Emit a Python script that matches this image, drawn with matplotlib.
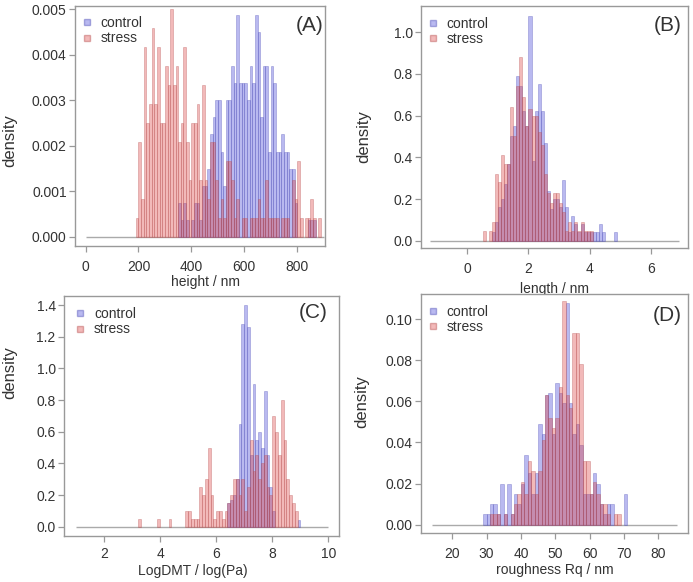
import numpy as np
import matplotlib
matplotlib.use("Agg")
import matplotlib.pyplot as plt
from matplotlib.lines import Line2D

plt.rcParams['font.family'] = ['Liberation Sans', 'DejaVu Sans']

# ---- (A) height / nm, 10 nm bins (counts, converted to density) ----
a_width = 10
a_stress_start = 190
a_stress_counts = [1, 5, 2, 10, 6, 7, 11, 7, 10, 6, 6,
                   9, 8, 12, 8, 9, 5, 6, 10, 5, 3,
                   6, 6, 7, 3, 8, 3, 2, 5, 5, 3,
                   1, 2, 1, 4, 4, 3, 1, 2, 0, 1,
                   1, 0, 1, 1, 1, 2, 1, 1, 3, 1,
                   1, 1, 1, 0, 1, 1, 1, 0, 3, 2,
                   4, 1, 0, 1, 1, 2, 1, 0, 1]
a_stress_unit = 0.000417
a_ctrl_start = 350
a_ctrl_counts = [2, 1, 2, 1, 0, 1, 2, 2, 1, 3,
                 3, 4, 6, 7, 8, 8, 5, 3, 8, 8,
                 10, 9, 13, 9, 9, 9, 8, 10, 9, 13,
                 12, 7, 10, 10, 5, 10, 9, 5, 5, 6,
                 5, 5, 4, 4, 2, 0, 0, 0, 0, 1, 1, 1]
a_ctrl_unit = 0.000375

# ---- (B) length / nm, 0.1 nm bins, starting at 0.5 ----
b_width = 0.1
b_start = 0.5
b_stress = [0.045, 0.0, 0.045, 0.09, 0.32, 0.28, 0.41, 0.37, 0.37, 0.64,
            0.50, 0.74, 0.88, 0.69, 0.55, 0.63, 0.60, 0.60, 0.52, 0.46,
            0.32, 0.23, 0.18, 0.23, 0.23, 0.18, 0.14, 0.045, 0.09, 0.045,
            0.09, 0.045, 0.09, 0.045, 0.045, 0.045, 0.0, 0.0, 0.0, 0.0,
            0.0, 0.0, 0.0, 0.0, 0.0]
b_ctrl = [0.0, 0.0, 0.0, 0.04, 0.09, 0.16, 0.20, 0.27, 0.37, 0.50,
          0.55, 0.79, 0.74, 0.62, 0.55, 1.08, 0.38, 0.62, 0.75, 0.62,
          0.47, 0.24, 0.15, 0.20, 0.20, 0.16, 0.29, 0.16, 0.04, 0.12,
          0.08, 0.04, 0.08, 0.04, 0.04, 0.04, 0.04, 0.04, 0.08, 0.04,
          0.0, 0.0, 0.0, 0.04, 0.0]

# ---- (C) LogDMT / log(Pa), 0.1 bins, starting at 3.2 ----
c_width = 0.1
c_start = 3.2
c_stress = [0.05, 0, 0, 0, 0, 0, 0, 0.05, 0, 0,
            0, 0.05, 0, 0, 0, 0, 0, 0.1, 0.1, 0.05,
            0.05, 0.05, 0.25, 0.2, 0.3, 0.5, 0.2, 0.05, 0.1, 0.1,
            0.05, 0.1, 0.15, 0.2, 0.3, 0.3, 0.2, 0.3, 0.1, 0.25,
            0.55, 0.35, 0.45, 0.3, 0.4, 0.45, 0.25, 0.2, 0.7, 0.6,
            0.45, 0.8, 0.55, 0.3, 0.2, 0.15, 0.1, 0.0]
c_ctrl = [0] * 32 + [0.15, 0.17, 0.2, 0.3, 0.65, 1.28, 1.4, 1.26,
                     0.45, 0.9, 0.55, 0.6, 0.5, 0.86, 0.45, 0.25, 0.1,
                     0, 0, 0, 0, 0, 0, 0, 0, 0.04]

# ---- (D) roughness Rq / nm, 1 nm bins, starting at 29 ----
d_width = 1
d_start = 29
d_stress = [0, 0, 0.005, 0.005, 0.005, 0, 0.005, 0, 0.005, 0.010,
            0.015, 0.021, 0.015, 0.031, 0.026, 0.015, 0.026, 0.041, 0.063, 0.052,
            0.047, 0.052, 0.067, 0.109, 0.063, 0.057, 0.093, 0.093, 0.078, 0.031,
            0.031, 0.015, 0.021, 0.015, 0.010, 0.010, 0.005, 0, 0.005, 0.005,
            0, 0]
d_ctrl = [0.005, 0.005, 0.010, 0.010, 0.005, 0.020, 0.005, 0.020, 0.005, 0.015,
          0.010, 0.020, 0.034, 0.025, 0.015, 0.025, 0.049, 0.044, 0.063, 0.064,
          0.044, 0.069, 0.064, 0.059, 0.108, 0.059, 0.044, 0.049, 0.039, 0.015,
          0.015, 0.015, 0.025, 0.020, 0.010, 0.005, 0.010, 0.010, 0, 0,
          0, 0.015]

CTRL_FACE = (0.24, 0.24, 0.84, 0.36)
CTRL_EDGE = (0.32, 0.32, 0.72, 0.45)
STRESS_FACE = (0.86, 0.24, 0.24, 0.36)
STRESS_EDGE = (0.72, 0.32, 0.32, 0.45)
TXT = '#333333'
GRID = '#999999'


def draw_bars(ax, start, width, vals, face, edge):
    vals = np.asarray(vals, dtype=float)
    lefts = start + width * np.arange(len(vals))
    keep = vals > 0
    ax.bar(lefts[keep], vals[keep], width=width, align='edge',
           color=face, edgecolor=edge, linewidth=0.5, zorder=2)


def style(ax, xlim, ylim, xticks, yticks, yfmt, base, xlabel, letter,
          ylab_pos, xlab_pos, leg_pos, letter_pos, xpad=6):
    ax.hlines(0, base[0], base[1], color='#aaaaaa', lw=1.0, zorder=1)
    ax.set_xlim(*xlim)
    ax.set_ylim(*ylim)
    ax.set_xticks(xticks)
    ax.set_yticks(yticks)
    ax.set_yticklabels([yfmt.format(v) for v in yticks])
    for sp in ax.spines.values():
        sp.set_color(GRID)
        sp.set_linewidth(1.0)
    ax.tick_params(direction='out', length=4, width=0.9, color=GRID,
                   labelcolor=TXT, labelsize=10)
    ax.tick_params(axis='x', pad=xpad)
    ax.tick_params(axis='y', pad=2)
    ax.set_xlabel(xlabel, fontsize=10, color=TXT)
    ax.xaxis.set_label_coords(*xlab_pos)
    ax.set_ylabel('density', fontsize=12, color=TXT)
    ax.yaxis.set_label_coords(*ylab_pos)
    handles = [Line2D([], [], ls='', marker='s', ms=4, mfc=CTRL_FACE, mec=CTRL_EDGE),
               Line2D([], [], ls='', marker='s', ms=4, mfc=STRESS_FACE, mec=STRESS_EDGE)]
    ax.legend(handles, ['control', 'stress'], loc='upper left',
              bbox_to_anchor=leg_pos, frameon=False, fontsize=10,
              handlelength=0.6, handletextpad=0.7, labelspacing=0.1,
              borderaxespad=0, borderpad=0, labelcolor=TXT)
    ax.text(letter_pos[0], letter_pos[1], letter, transform=ax.transAxes,
            ha='right', va='center', fontsize=15, color=TXT)


fig = plt.figure(figsize=(6.93, 5.82), dpi=100)
axA = fig.add_axes([0.1082, 0.5773, 0.3608, 0.4124])
axB = fig.add_axes([0.6075, 0.5739, 0.3853, 0.4158])
axC = fig.add_axes([0.0924, 0.0790, 0.3968, 0.4124])
axD = fig.add_axes([0.6075, 0.0842, 0.3853, 0.4107])

# A
draw_bars(axA, a_ctrl_start, a_width, np.array(a_ctrl_counts) * a_ctrl_unit,
          CTRL_FACE, CTRL_EDGE)
draw_bars(axA, a_stress_start, a_width, np.array(a_stress_counts) * a_stress_unit,
          STRESS_FACE, STRESS_EDGE)
style(axA, (-40, 905), (-0.0002, 0.00507), [0, 200, 400, 600, 800],
      [0, 0.001, 0.002, 0.003, 0.004, 0.005], '{:.3f}', (0, 900),
      'height / nm', '(A)', (-0.232, 0.44), (0.52, -0.121), (0.031, 0.958),
      (0.995, 0.917))

# B
draw_bars(axB, b_start, b_width, b_ctrl, CTRL_FACE, CTRL_EDGE)
draw_bars(axB, b_start, b_width, b_stress, STRESS_FACE, STRESS_EDGE)
style(axB, (-1.51, 7.21), (-0.035, 1.126), [0, 2, 4, 6],
      [0, 0.2, 0.4, 0.6, 0.8, 1.0], '{:.1f}', (-1.2, 6.9),
      'length / nm', '(B)', (-0.188, 0.46), (0.5, -0.14), (0.029, 0.955),
      (0.977, 0.92))

# C
draw_bars(axC, c_start, c_width, c_ctrl, CTRL_FACE, CTRL_EDGE)
draw_bars(axC, c_start, c_width, c_stress, STRESS_FACE, STRESS_EDGE)
style(axC, (0.57, 10.38), (-0.059, 1.457), [2, 4, 6, 8, 10],
      [0, 0.2, 0.4, 0.6, 0.8, 1.0, 1.2, 1.4], '{:.1f}', (1.0, 10.0),
      'LogDMT / log(Pa)', '(C)', (-0.17, 0.68), (0.47, -0.118), (0.043, 0.954),
      (0.96, 0.93), xpad=4)

# D
draw_bars(axD, d_start, d_width, d_ctrl, CTRL_FACE, CTRL_EDGE)
draw_bars(axD, d_start, d_width, d_stress, STRESS_FACE, STRESS_EDGE)
style(axD, (10.9, 88.65), (-0.004, 0.1122), [20, 30, 40, 50, 60, 70, 80],
      [0, 0.02, 0.04, 0.06, 0.08, 0.10], '{:.2f}', (14, 85.5),
      'roughness Rq / nm', '(D)', (-0.195, 0.55), (0.5, -0.126), (0.029, 0.954),
      (0.977, 0.912))

fig.savefig('out.png', dpi=100)
